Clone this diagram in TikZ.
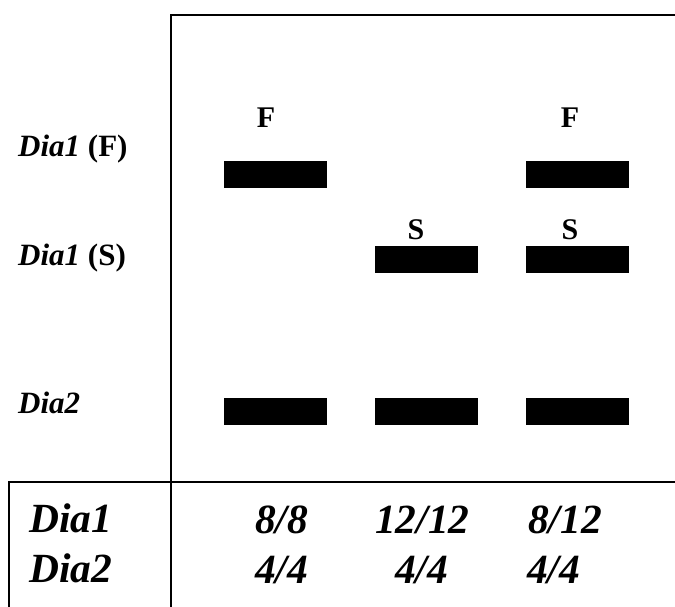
\documentclass[tikz,border=0pt]{standalone}
\usepackage{fontspec}
\setmainfont{Liberation Serif}
\begin{document}
\begin{tikzpicture}[x=1pt,y=-1pt,
  bar/.style={fill=black,draw=none,minimum width=103pt,minimum height=27pt,inner sep=0pt},
  lbl/.style={font=\fontsize{31}{31}\selectfont\bfseries,inner sep=0pt,anchor=base west},
  top/.style={font=\fontsize{30}{30}\selectfont\bfseries,inner sep=0pt,anchor=base},
  tbl/.style={font=\fontsize{41.5}{41.5}\selectfont\bfseries\itshape,inner sep=0pt,anchor=base west},
  frame/.style={line width=2pt}]
\useasboundingbox (0,0) rectangle (675,607);
% frame
\coordinate (tl) at (171,15);
\coordinate (tr) at (675,15);
\coordinate (vb) at (171,607);
\coordinate (hl) at (9,482);
\coordinate (hr) at (675,482);
\coordinate (lb) at (9,607);
\draw[frame] (tr) -- (tl) -- (vb);
\draw[frame] (hr) -- (hl) -- (lb);
% bars
\node[bar] (f1) at (275.5,174.5) {};
\node[bar] (f3) at (577.5,174.5) {};
\node[bar] (s2) at (426,259.5) {};
\node[bar] (s3) at (577.5,259.5) {};
\node[bar] (d1) at (275.5,411.5) {};
\node[bar] (d2) at (426,411.5) {};
\node[bar] (d3) at (577.5,411.5) {};
% bar labels
\node[top] (lf1) at (266,128) {F};
\node[top] (lf3) at (570,128) {F};
\node[top] (ls2) at (416,239) {S};
\node[top] (ls3) at (570,239) {S};
% row labels
\node[lbl] (rf) at (18,157) {\textit{Dia1} (F)};
\node[lbl] (rs) at (18,265) {\textit{Dia1} (S)};
\node[lbl] (rd) at (18,413) {\textit{Dia2}};
% table
\node[tbl] (t1) at (29,532) {Dia1};
\node[tbl] (t2) at (29,582) {Dia2};
\node[tbl] (a1) at (255,533) {8/8};
\node[tbl] (b1) at (255,583) {4/4};
\node[tbl] (a2) at (375,533) {12/12};
\node[tbl] (b2) at (395,583) {4/4};
\node[tbl] (a3) at (528,533) {8/12};
\node[tbl] (b3) at (527,583) {4/4};
\end{tikzpicture}
\end{document}
